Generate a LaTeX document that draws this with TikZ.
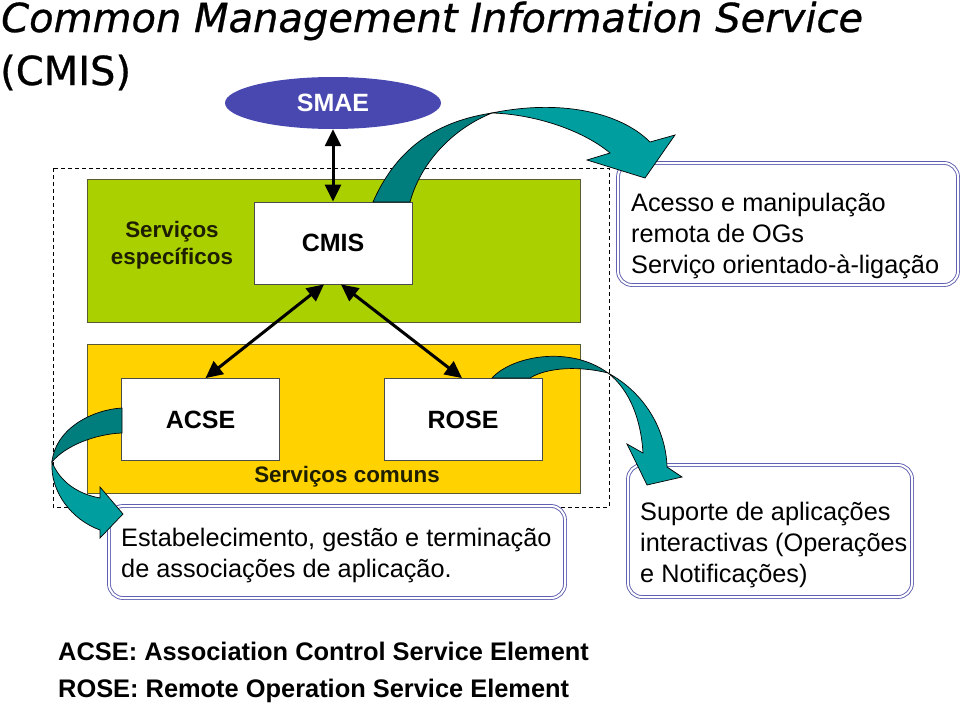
\documentclass[tikz,border=0pt]{standalone}
\usepackage{fontspec}
\setmainfont{Liberation Sans}
\newfontfamily\titlefont{DejaVu Sans}[FakeBold=0.7]
\usetikzlibrary{shapes.geometric,arrows.meta,calc}
\definecolor{smaeblue}{RGB}{72,72,176}
\definecolor{specgreen}{RGB}{170,208,0}
\definecolor{comyellow}{RGB}{255,210,0}
\definecolor{tealhi}{RGB}{0,158,158}
\definecolor{tealsh}{RGB}{0,126,126}
\definecolor{frameblue}{RGB}{96,96,176}
\definecolor{edgeolive}{RGB}{90,90,50}
\definecolor{textdark}{RGB}{30,30,0}
\tikzset{
	area/.style={draw=edgeolive, line width=0.8pt, fill=#1, inner sep=0pt},
	svcbox/.style={draw=gray!60!black, line width=0.8pt, fill=white, minimum width=158pt, minimum height=82pt, font=\fontsize{25}{30}\selectfont\bfseries},
	notebox/.style={draw=frameblue, double=white, double distance=2pt, line width=0.9pt, rounded corners=14pt, fill=white, inner sep=0pt},
	notetext/.style={align=left, inner sep=0pt, anchor=west, font=\fontsize{25.3}{31}\selectfont},
	lbl/.style={align=center, inner sep=0pt, text=textdark, font=\fontsize{22.4}{27}\selectfont\bfseries},
	legend/.style={inner sep=0pt, anchor=base west, font=\fontsize{25.4}{30}\selectfont\bfseries},
	heading/.style={inner sep=0pt, anchor=base west, font=\titlefont\fontsize{40}{48}\selectfont#1},
	biarrow/.style={{Triangle[length=17pt,width=16pt]}-{Triangle[length=17pt,width=16pt]}, line width=3pt},
	twist/.style={fill=tealhi, draw=black, line width=0.7pt},
	twistback/.style={fill=tealsh, draw=black, line width=0.7pt}
}
\begin{document}
\begin{tikzpicture}[x=1pt,y=-1pt]
	\useasboundingbox (0,0) rectangle (960,704);
	\node[heading=\itshape] (title) at (1,32) {Common Management Information Service};
	\node[heading=\upshape] (titlecmis) at (0,85) {(CMIS)};
	\draw[dashed, dash pattern=on 4pt off 3pt, line width=0.8pt] (53,168) rectangle (609,507);
	\node[area=specgreen, minimum width=493pt, minimum height=143pt] (specific) at (333.5,250.5) {};
	\node[area=comyellow, minimum width=493pt, minimum height=149pt] (common) at (333.5,418.5) {};
	\node[ellipse, fill=smaeblue, minimum width=216pt, minimum height=52pt, inner sep=0pt, text=white, font=\fontsize{25}{30}\selectfont\bfseries] (smae) at (333,103) {SMAE};
	\node[svcbox] (cmis) at (333,243) {CMIS};
	\node[svcbox] (acse) at (200.5,419.5) {ACSE};
	\node[svcbox] (rose) at (463,419.5) {ROSE};
	\node[lbl] (speclbl) at (172,245) {Serviços\\específicos};
	\node[lbl] (comlbl) at (347,477) {Serviços comuns};
	\node[notebox, minimum width=340pt, minimum height=122pt] (accessbox) at (788,224) {};
	\node[notebox, minimum width=456pt, minimum height=92pt] (assocbox) at (337,552) {};
	\node[notebox, minimum width=284pt, minimum height=132pt] (interbox) at (770,531) {};
	\node[notetext] (accesstxt) at (631,236) {Acesso e manipulação\\remota de OGs\\Serviço orientado-à-ligação};
	\node[notetext] (assoctxt) at (121,556) {Estabelecimento, gestão e terminação\\de associações de aplicação.};
	\node[notetext] (intertxt) at (640,545) {Suporte de aplicações\\interactivas (Operações\\e Notificações)};
	\draw[biarrow] (smae.south) -- (cmis.north);
	\draw[biarrow] ($(cmis.south)+(-9,0)$) -- ($(acse.north)+(5,0)$);
	\draw[biarrow] ($(cmis.south)+(8,0)$) -- ($(rose.north)+(-1,0)$);
	\filldraw[twistback] (373,202) .. controls (398,145) and (440,121) .. (492,113)
		.. controls (450,130) and (420,165) .. (410,202) -- cycle;
	\filldraw[twist] (492,113) .. controls (560,99) and (620,112) .. (650,142)
		-- (675,135) -- (645,178) -- (587,160) -- (610,153)
		.. controls (580,128) and (530,114) .. (492,113) -- cycle;
	\filldraw[twistback] (492,378) .. controls (512,356) and (570,345) .. (608,373)
		.. controls (580,366) and (548,367) .. (530,378) -- cycle;
	\filldraw[twist] (608,373) .. controls (645,393) and (666,430) .. (667,467)
		-- (682,477) -- (647,485) -- (627,444) -- (643,453)
		.. controls (641,420) and (630,390) .. (608,373) -- cycle;
	\filldraw[twistback] (122,408) .. controls (90,410) and (55,430) .. (52,462)
		.. controls (65,446) and (95,434) .. (122,433) -- cycle;
	\filldraw[twist] (52,462) .. controls (50,492) and (72,520) .. (100,530)
		-- (100,538) -- (123,514) -- (100,487) -- (100,498)
		.. controls (78,494) and (60,482) .. (52,462) -- cycle;
	\node[legend] (acsedef) at (58,660) {ACSE: Association Control Service Element};
	\node[legend] (rosedef) at (58,697) {ROSE: Remote Operation Service Element};
\end{tikzpicture}
\end{document}
